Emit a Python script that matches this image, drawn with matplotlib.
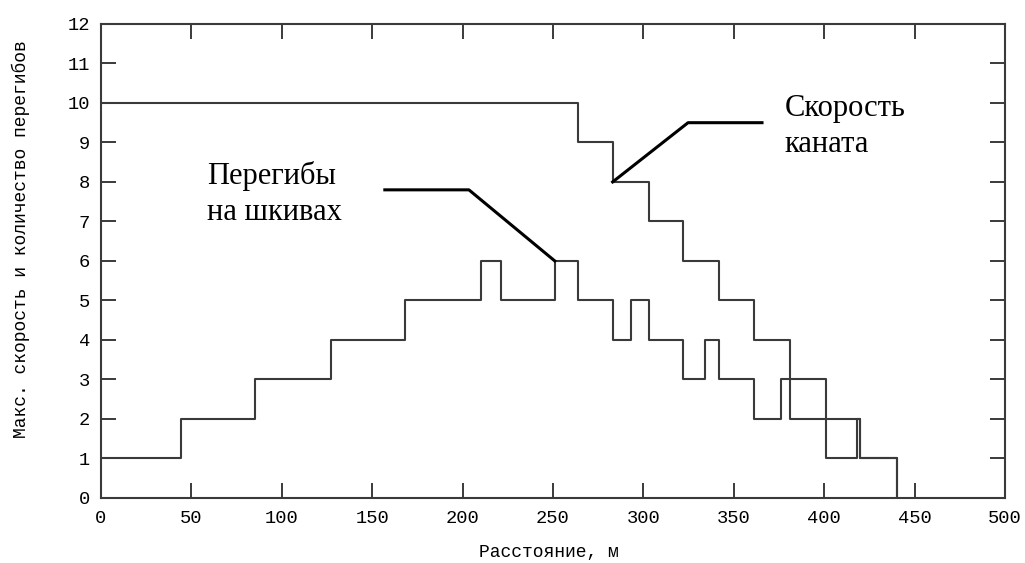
import matplotlib.pyplot as plt

# Скорость каната: границы участков (м) и значения на участках
speed_x = [0, 264, 283, 303, 322, 342, 361, 381, 401, 420, 440]
speed_y = [10, 9, 8, 7, 6, 5, 4, 3, 2, 1, 0]

# Количество перегибов на шкивах
bend_x = [0, 44, 85, 127, 168, 210, 221, 251, 264, 283, 293, 303, 322, 334,
          342, 361, 376, 381, 401, 418, 420, 440]
bend_y = [1, 2, 3, 4, 5, 6, 5, 6, 5, 4, 5, 4, 3, 4, 3, 2, 3, 2, 1, 2, 1, 0]

x_ticks = [0, 50, 100, 150, 200, 250, 300, 350, 400, 450, 500]
y_ticks = list(range(0, 13))

line_col = '#3a3a3a'

fig = plt.figure(figsize=(10.25, 5.63), dpi=100)
ax = fig.add_axes([0.0985, 0.1155, 0.882, 0.842])

ax.step(speed_x, speed_y, where='post', color=line_col, lw=1.5)
ax.step(bend_x, bend_y, where='post', color=line_col, lw=1.5)

# выноски к подписям
ax.plot([157, 203.5, 251], [7.8, 7.8, 6], color='black', lw=2.2)
ax.plot([283, 324.7, 365.6], [8, 9.5, 9.5], color='black', lw=2.2)

ax.text(58.6, 7.04, "Перегибы\nна шкивах", family='Liberation Serif',
        fontsize=22, va='baseline', ha='left', linespacing=1.3)
ax.text(378.3, 8.76, "Скорость\nканата", family='Liberation Serif',
        fontsize=22, va='baseline', ha='left', linespacing=1.3)

ax.set_xlim(0, 500)
ax.set_ylim(0, 12)
ax.set_xticks(x_ticks)
ax.set_yticks(y_ticks)
ax.tick_params(direction='in', length=10.8, width=1.4, color=line_col,
               top=True, right=True, labelsize=13.5)
ax.tick_params(axis='x', pad=9)
ax.tick_params(axis='y', pad=8)
for lab in ax.get_xticklabels() + ax.get_yticklabels():
    lab.set_family('Liberation Mono')
for sp in ax.spines.values():
    sp.set_linewidth(1.5)
    sp.set_color(line_col)

ax.set_xlabel("Расстояние, м", family='Liberation Mono', fontsize=13)
ax.set_ylabel("Макс. скорость и количество перегибов", family='Liberation Mono',
              fontsize=13)
ax.xaxis.label.set_va('center')
ax.xaxis.set_label_coords(0.495, -0.114)
ax.yaxis.set_label_coords(-0.078, 0.545)

fig.savefig('out.png', dpi=100)
